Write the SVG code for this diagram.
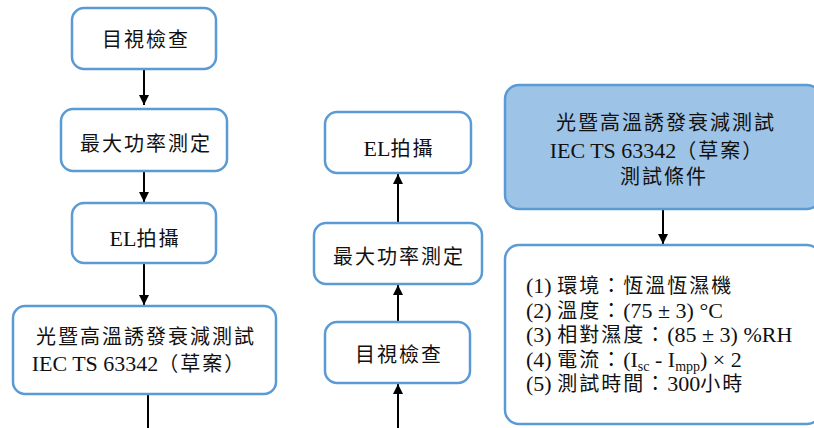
<svg xmlns="http://www.w3.org/2000/svg" width="814" height="428" viewBox="0 0 814 428">
<defs>
<style>
.box{fill:#ffffff;stroke:#5B9BD5;stroke-width:2.5}
.hl{fill:#9DC3E6;stroke:#5B9BD5;stroke-width:2.5}
.t{font-family:"Liberation Serif","Noto Sans CJK TC",serif;font-size:22px;fill:#111111}
.k{font-family:"Noto Sans CJK TC",serif;font-size:20px;letter-spacing:2px}
.c{text-anchor:middle}
.arr{stroke:#000000;stroke-width:2;fill:none}
</style>
<marker id="ah" markerUnits="userSpaceOnUse" markerWidth="11" markerHeight="11" refX="10" refY="5" orient="auto">
<path d="M0,0 L10,5 L0,10 z" fill="#000000"/>
</marker>
</defs>
<rect width="814" height="428" fill="#ffffff"/>

<g id="connectors">
<line class="arr" x1="144" y1="69" x2="144" y2="105" marker-end="url(#ah)"/>
<line class="arr" x1="144" y1="171" x2="144" y2="202" marker-end="url(#ah)"/>
<line class="arr" x1="144" y1="263" x2="144" y2="305" marker-end="url(#ah)"/>
<line class="arr" x1="148" y1="394" x2="148" y2="428"/>
<line class="arr" x1="398" y1="222" x2="398" y2="174" marker-end="url(#ah)"/>
<line class="arr" x1="398" y1="321" x2="398" y2="285" marker-end="url(#ah)"/>
<line class="arr" x1="398" y1="428" x2="398" y2="384" marker-end="url(#ah)"/>
<line class="arr" x1="663" y1="209" x2="663" y2="244" marker-end="url(#ah)"/>
</g>

<g id="left-visual">
<rect class="box" x="72" y="8" width="144" height="61" rx="12"/>
<text class="t c" x="146" y="47"><tspan class="k">目視檢查</tspan></text>
</g>
<g id="left-pmax">
<rect class="box" x="61" y="109" width="166" height="62" rx="12"/>
<text class="t c" x="146" y="151"><tspan class="k">最大功率測定</tspan></text>
</g>
<g id="left-el">
<rect class="box" x="72" y="203" width="144" height="60" rx="12"/>
<text class="t c" x="145" y="246">EL<tspan class="k">拍攝</tspan></text>
</g>
<g id="left-letid">
<rect class="box" x="13" y="306" width="263" height="88" rx="12"/>
<text class="t c" x="146" y="344"><tspan class="k">光暨高溫誘發衰減測試</tspan></text>
<text class="t c" x="139" y="371">IEC TS 63342<tspan class="k">（草案）</tspan></text>
</g>

<g id="mid-el">
<rect class="box" x="325" y="112" width="146" height="61" rx="12"/>
<text class="t c" x="399" y="156">EL<tspan class="k">拍攝</tspan></text>
</g>
<g id="mid-pmax">
<rect class="box" x="314" y="223" width="168" height="61" rx="12"/>
<text class="t c" x="399" y="264"><tspan class="k">最大功率測定</tspan></text>
</g>
<g id="mid-visual">
<rect class="box" x="325" y="322" width="145" height="61" rx="12"/>
<text class="t c" x="399" y="362"><tspan class="k">目視檢查</tspan></text>
</g>

<g id="right-title">
<rect class="hl" x="505" y="85" width="316" height="124" rx="14"/>
<text class="t c" x="666" y="130"><tspan class="k">光暨高溫誘發衰減測試</tspan></text>
<text class="t c" x="657" y="158">IEC TS 63342<tspan class="k">（草案）</tspan></text>
<text class="t c" x="664" y="184"><tspan class="k">測試條件</tspan></text>
</g>
<g id="right-conditions">
<rect class="box" x="505" y="245" width="316" height="179" rx="14"/>
<text class="t" x="526" y="293">(1) <tspan class="k">環境：恆溫恆濕機</tspan></text>
<text class="t" x="526" y="317.5">(2) <tspan class="k">溫度：</tspan>(75 ± 3) °C</text>
<text class="t" x="526" y="342">(3) <tspan class="k">相對濕度：</tspan>(85 ± 3) %RH</text>
<text class="t" x="526" y="366.5">(4) <tspan class="k">電流：</tspan>(I<tspan font-size="14" dy="4">sc</tspan><tspan dy="-4"> - I</tspan><tspan font-size="14" dy="4">mpp</tspan><tspan dy="-4">) × 2</tspan></text>
<text class="t" x="526" y="391">(5) <tspan class="k">測試時間：</tspan>300<tspan class="k">小時</tspan></text>
</g>
</svg>
